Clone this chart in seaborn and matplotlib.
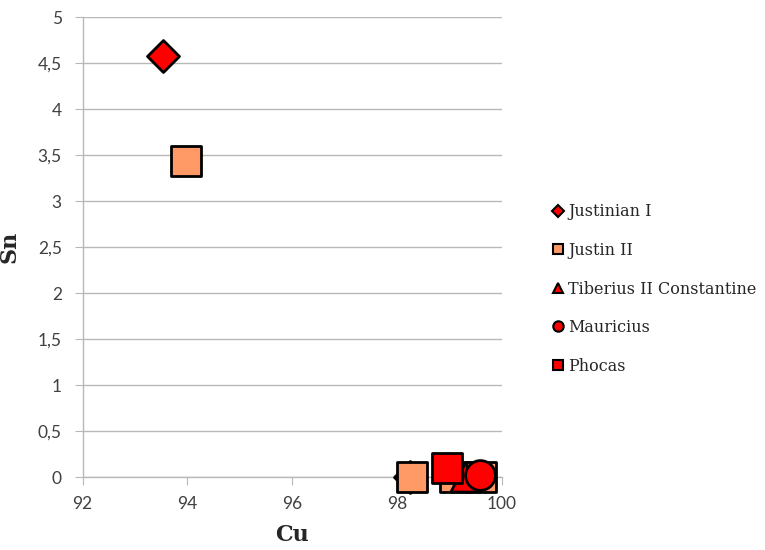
import numpy as np
import pandas as pd
import matplotlib
matplotlib.use("Agg")
import matplotlib.pyplot as plt
import seaborn as sns
from matplotlib.lines import Line2D
from matplotlib.ticker import FuncFormatter, MultipleLocator

# ─────────────────────────────────────────
# DATA
# ─────────────────────────────────────────
series = ["Justinian I", "Justin II", "Tiberius II Constantine", "Mauricius", "Phocas"]

justinian_cu = [93.53, 98.25]
justinian_sn = [4.58, 0.0]

justin2_cu = [93.97, 98.29, 99.1, 99.6]
justin2_sn = [3.44, 0.0, 0.0, 0.0]

tiberius_cu = [99.3]
tiberius_sn = [0.0]

mauricius_cu = [99.59]
mauricius_sn = [0.02]

phocas_cu = [98.96]
phocas_sn = [0.1]

cu_values = [justinian_cu, justin2_cu, tiberius_cu, mauricius_cu, phocas_cu]
sn_values = [justinian_sn, justin2_sn, tiberius_sn, mauricius_sn, phocas_sn]

# ─────────────────────────────────────────
# STYLE
# ─────────────────────────────────────────
markers = ["D", "s", "^", "o", "s"]
colors  = ["#ff0000", "#ff9966", "#ff0000", "#ff0000", "#ff0000"]
sizes   = [265, 440, 440, 460, 440]

sns.set_style("white")
plt.rcParams["font.family"] = ["Lato", "DejaVu Sans"]

fig = plt.figure(figsize=(7.65, 5.5), dpi=100)
ax = fig.add_axes([0.108, 0.1327, 0.548, 0.836])

for name, xs, ys, m, c, s in zip(series, cu_values, sn_values, markers, colors, sizes):
    df = pd.DataFrame({"Cu": xs, "Sn": ys})
    sns.scatterplot(data=df, x="Cu", y="Sn", marker=m, color=c, s=s,
                    edgecolor="black", linewidth=2, ax=ax, clip_on=False,
                    zorder=3)

ax.set_xlim(92, 100)
ax.set_ylim(0, 5)
ax.xaxis.set_major_locator(MultipleLocator(2))
ax.yaxis.set_major_locator(MultipleLocator(0.5))
ax.yaxis.set_major_formatter(FuncFormatter(lambda v, p: f"{v:g}".replace(".", ",")))

ax.grid(True, axis="y", color="#b8b8b8", linewidth=1)
ax.grid(False, axis="x")
for side in ["top", "right"]:
    ax.spines[side].set_visible(False)
for side in ["left", "bottom"]:
    ax.spines[side].set_color("#b8b8b8")
    ax.spines[side].set_linewidth(1)

ax.tick_params(axis="both", which="major", direction="out", length=6,
               color="#b8b8b8", labelsize=12.5, labelcolor="#404040",
               bottom=True, left=True)
ax.tick_params(axis="x", pad=8)
ax.tick_params(axis="y", pad=9)

ax.set_xlabel("Cu", fontsize=16, fontweight="bold", family="DejaVu Serif", labelpad=8)
ax.set_ylabel("Sn", fontsize=16, fontweight="bold", family="DejaVu Serif", labelpad=12)

handles = [Line2D([], [], linestyle="none", marker=m, markerfacecolor=c,
                  markeredgecolor="black", markeredgewidth=1.5,
                  markersize=(6.5 if m == "D" else 7.5))
           for m, c in zip(markers, colors)]
leg = fig.legend(handles, series, loc="center left", bbox_to_anchor=(0.702, 0.4745),
                 frameon=False, handlelength=0.8, handletextpad=0.25,
                 labelspacing=1.35, prop={"family": "DejaVu Serif", "size": 11.5})

plt.savefig("out.png", dpi=100)
